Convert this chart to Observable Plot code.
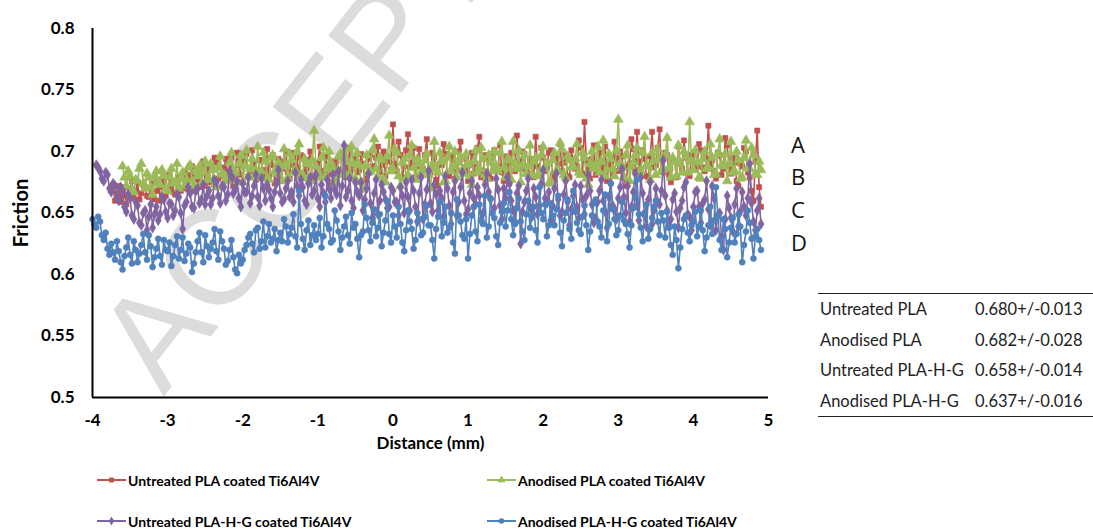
<!DOCTYPE html>
<html>
<head>
<meta charset="utf-8">
<script src="https://cdn.jsdelivr.net/npm/d3@7"></script>
<script src="https://cdn.jsdelivr.net/npm/@observablehq/plot@0.6"></script>
<style>
  html, body { margin: 0; padding: 0; background: #fff; }
  #page { position: relative; width: 1093px; height: 530px; overflow: hidden; font-family: Lato, "Open Sans", sans-serif; color: #000; }
  #chart { position: absolute; left: 0; top: 0; }
  .curve-label { position: absolute; left: 791px; font-size: 22px; line-height: 22px; font-family: "Open Sans", Lato, sans-serif; color: #111; }
  #stats { position: absolute; left: 818px; top: 293px; width: 275px; border-top: 1.5px solid #222; border-bottom: 1.5px solid #222; border-collapse: collapse; font-size: 16.5px; font-family: Lato, "Open Sans", sans-serif; color: #222; }
  #stats td { padding: 5px 0 0 0; height: 25.5px; line-height: 20px; vertical-align: top; white-space: nowrap; }
  #stats td.name { padding-left: 2px; width: 155px; }
  .legend-item { position: absolute; display: flex; align-items: center; font-weight: bold; font-size: 14px; white-space: nowrap; }
  .legend-item svg { margin-right: 2px; }
</style>
</head>
<body>
<div id="page">
  <div id="chart"></div>
</div>
<script>
// Series styling, in Excel's default palette
const seriesNames = [
  "Untreated PLA coated Ti6Al4V",
  "Anodised PLA coated Ti6Al4V",
  "Untreated PLA-H-G coated Ti6Al4V",
  "Anodised PLA-H-G coated Ti6Al4V"
];
const seriesColors = ["#C0504D", "#9BBB59", "#8064A2", "#4F81BD"];
const seriesSymbols = ["square", "triangle", "diamond", "circle"];
const symbolRadius = {square: 2.9, triangle: 3.6, diamond: 3.2, circle: 3.0};

// Friction readings sampled every 0.025 mm, starting at each series' first distance
const sampleStep = 0.025;
const seriesStarts = [-3.75, -3.60, -3.95, -4.00];

const untreatedPLA = [
  0.668, 0.673, 0.660, 0.666, 0.672, 0.659, 0.664, 0.671, 0.657, 0.665, 0.670, 0.676, 0.662, 0.668, 0.675, 0.661, 0.666, 0.673, 0.671, 0.664,
  0.663, 0.670, 0.674, 0.661, 0.668, 0.677, 0.660, 0.671, 0.676, 0.664, 0.669, 0.681, 0.672, 0.667, 0.665, 0.675, 0.679, 0.668, 0.670, 0.683,
  0.674, 0.669, 0.681, 0.688, 0.668, 0.679, 0.677, 0.671, 0.683, 0.692, 0.672, 0.680, 0.686, 0.675, 0.676, 0.695, 0.691, 0.678, 0.680, 0.687,
  0.686, 0.694, 0.678, 0.683, 0.695, 0.672, 0.682, 0.699, 0.689, 0.681, 0.675, 0.692, 0.698, 0.680, 0.684, 0.701, 0.690, 0.677, 0.679, 0.693,
  0.693, 0.679, 0.685, 0.702, 0.680, 0.689, 0.697, 0.674, 0.688, 0.694, 0.676, 0.686, 0.692, 0.700, 0.683, 0.678, 0.699, 0.689, 0.687, 0.695,
  0.681, 0.697, 0.694, 0.683, 0.686, 0.693, 0.700, 0.678, 0.679, 0.691, 0.690, 0.704, 0.684, 0.680, 0.696, 0.687, 0.675, 0.692, 0.688, 0.682,
  0.692, 0.685, 0.682, 0.696, 0.699, 0.679, 0.687, 0.703, 0.678, 0.689, 0.694, 0.683, 0.685, 0.698, 0.690, 0.676, 0.681, 0.694, 0.697, 0.688,
  0.686, 0.695, 0.704, 0.683, 0.689, 0.700, 0.680, 0.692, 0.693, 0.685, 0.722, 0.690, 0.684, 0.708, 0.697, 0.679, 0.688, 0.701, 0.714, 0.687,
  0.691, 0.703, 0.679, 0.688, 0.702, 0.682, 0.686, 0.697, 0.710, 0.684, 0.683, 0.699, 0.695, 0.677, 0.672, 0.690, 0.689, 0.706, 0.698, 0.681,
  0.680, 0.696, 0.693, 0.678, 0.685, 0.700, 0.708, 0.683, 0.687, 0.694, 0.676, 0.689, 0.699, 0.682, 0.690, 0.703, 0.712, 0.679, 0.684, 0.697,
  0.694, 0.681, 0.678, 0.698, 0.701, 0.685, 0.688, 0.705, 0.683, 0.676, 0.696, 0.690, 0.674, 0.699, 0.691, 0.684, 0.713, 0.692, 0.686, 0.700,
  0.698, 0.685, 0.682, 0.694, 0.693, 0.679, 0.712, 0.688, 0.680, 0.703, 0.695, 0.684, 0.687, 0.699, 0.701, 0.681, 0.677, 0.696, 0.690, 0.706,
  0.684, 0.691, 0.697, 0.680, 0.679, 0.701, 0.692, 0.686, 0.688, 0.709, 0.703, 0.682, 0.724, 0.693, 0.685, 0.678, 0.694, 0.705, 0.681, 0.690,
  0.699, 0.683, 0.687, 0.704, 0.676, 0.689, 0.693, 0.681, 0.708, 0.695, 0.684, 0.700, 0.696, 0.679, 0.672, 0.688, 0.690, 0.710, 0.702, 0.685,
  0.716, 0.692, 0.685, 0.701, 0.694, 0.680, 0.679, 0.696, 0.716, 0.687, 0.689, 0.703, 0.718, 0.684, 0.683, 0.699, 0.697, 0.681, 0.675, 0.693,
  0.692, 0.679, 0.704, 0.690, 0.686, 0.709, 0.695, 0.682, 0.680, 0.697, 0.699, 0.685, 0.688, 0.706, 0.701, 0.687, 0.684, 0.694, 0.721, 0.689,
  0.693, 0.684, 0.678, 0.699, 0.697, 0.681, 0.686, 0.711, 0.705, 0.688, 0.682, 0.695, 0.691, 0.676, 0.672, 0.690, 0.688, 0.703, 0.700, 0.683,
  0.679, 0.668, 0.660, 0.692, 0.717, 0.671, 0.655
];

const anodisedPLA = [
  0.688, 0.679, 0.672, 0.684, 0.680, 0.669, 0.667, 0.677, 0.676, 0.686, 0.690, 0.674, 0.670, 0.682, 0.679, 0.671, 0.665, 0.680, 0.684, 0.675,
  0.673, 0.685, 0.681, 0.670, 0.668, 0.679, 0.686, 0.674, 0.675, 0.690, 0.670, 0.678, 0.683, 0.672, 0.677, 0.687, 0.689, 0.676, 0.672, 0.684,
  0.680, 0.688, 0.674, 0.683, 0.692, 0.677, 0.678, 0.690, 0.685, 0.673, 0.671, 0.687, 0.696, 0.682, 0.681, 0.677, 0.676, 0.691, 0.699, 0.684,
  0.683, 0.676, 0.690, 0.697, 0.675, 0.688, 0.701, 0.680, 0.686, 0.694, 0.679, 0.685, 0.704, 0.681, 0.684, 0.699, 0.692, 0.678, 0.677, 0.695,
  0.697, 0.684, 0.682, 0.691, 0.688, 0.676, 0.702, 0.689, 0.679, 0.698, 0.693, 0.683, 0.685, 0.700, 0.706, 0.680, 0.681, 0.694, 0.690, 0.678,
  0.676, 0.693, 0.717, 0.688, 0.684, 0.679, 0.695, 0.703, 0.680, 0.686, 0.700, 0.691, 0.687, 0.677, 0.674, 0.696, 0.698, 0.681, 0.683, 0.702,
  0.692, 0.681, 0.704, 0.690, 0.678, 0.699, 0.689, 0.675, 0.669, 0.688, 0.697, 0.683, 0.684, 0.701, 0.710, 0.686, 0.680, 0.695, 0.693, 0.677,
  0.675, 0.696, 0.713, 0.684, 0.686, 0.702, 0.699, 0.680, 0.672, 0.691, 0.694, 0.678, 0.681, 0.697, 0.705, 0.687, 0.677, 0.694, 0.690, 0.683,
  0.685, 0.693, 0.698, 0.681, 0.670, 0.689, 0.708, 0.686, 0.683, 0.699, 0.692, 0.675, 0.676, 0.695, 0.704, 0.684, 0.688, 0.700, 0.679, 0.691,
  0.696, 0.685, 0.682, 0.698, 0.689, 0.680, 0.673, 0.692, 0.701, 0.683, 0.686, 0.703, 0.694, 0.681, 0.678, 0.697, 0.691, 0.684, 0.700, 0.688,
  0.684, 0.699, 0.708, 0.687, 0.679, 0.694, 0.693, 0.677, 0.708, 0.690, 0.686, 0.701, 0.675, 0.689, 0.697, 0.682, 0.688, 0.705, 0.681, 0.692,
  0.695, 0.680, 0.683, 0.697, 0.704, 0.686, 0.690, 0.674, 0.676, 0.693, 0.699, 0.684, 0.685, 0.707, 0.702, 0.681, 0.679, 0.696, 0.693, 0.687,
  0.688, 0.694, 0.706, 0.683, 0.681, 0.699, 0.695, 0.678, 0.673, 0.690, 0.700, 0.686, 0.689, 0.704, 0.683, 0.692, 0.709, 0.680, 0.685, 0.698,
  0.694, 0.686, 0.680, 0.701, 0.726, 0.690, 0.687, 0.679, 0.697, 0.705, 0.676, 0.688, 0.691, 0.697, 0.703, 0.682, 0.684, 0.699, 0.712, 0.689,
  0.688, 0.677, 0.699, 0.693, 0.681, 0.702, 0.694, 0.684, 0.686, 0.697, 0.711, 0.687, 0.679, 0.695, 0.692, 0.680, 0.705, 0.690, 0.683, 0.700,
  0.696, 0.683, 0.724, 0.692, 0.685, 0.701, 0.691, 0.679, 0.678, 0.694, 0.700, 0.686, 0.687, 0.706, 0.695, 0.681, 0.682, 0.698, 0.710, 0.689,
  0.688, 0.698, 0.676, 0.690, 0.708, 0.683, 0.684, 0.700, 0.693, 0.678, 0.679, 0.695, 0.709, 0.687, 0.686, 0.703, 0.697, 0.682, 0.681, 0.692,
  0.685
];

const untreatedPLAHG = [
  0.689, 0.687, 0.684, 0.678, 0.676, 0.683, 0.681, 0.670, 0.667, 0.674, 0.672, 0.663, 0.660, 0.671, 0.668, 0.655, 0.651, 0.665, 0.662, 0.648,
  0.645, 0.659, 0.656, 0.642, 0.640, 0.650, 0.652, 0.636, 0.647, 0.657, 0.638, 0.649, 0.655, 0.644, 0.649, 0.663, 0.661, 0.651, 0.646, 0.658,
  0.657, 0.648, 0.652, 0.665, 0.663, 0.650, 0.637, 0.656, 0.659, 0.671, 0.666, 0.655, 0.654, 0.668, 0.670, 0.658, 0.661, 0.673, 0.657, 0.664,
  0.668, 0.657, 0.662, 0.677, 0.675, 0.664, 0.658, 0.672, 0.671, 0.660, 0.665, 0.684, 0.680, 0.666, 0.669, 0.676, 0.662, 0.655, 0.674, 0.667,
  0.667, 0.679, 0.658, 0.664, 0.672, 0.681, 0.663, 0.656, 0.678, 0.670, 0.660, 0.673, 0.669, 0.662, 0.655, 0.667, 0.674, 0.685, 0.666, 0.659,
  0.661, 0.670, 0.676, 0.663, 0.667, 0.659, 0.683, 0.672, 0.664, 0.677, 0.671, 0.660, 0.657, 0.674, 0.679, 0.665, 0.668, 0.681, 0.662, 0.655,
  0.673, 0.666, 0.659, 0.677, 0.670, 0.662, 0.681, 0.669, 0.665, 0.684, 0.656, 0.672, 0.705, 0.663, 0.668, 0.678, 0.660, 0.654, 0.675, 0.667,
  0.664, 0.675, 0.652, 0.661, 0.670, 0.682, 0.658, 0.646, 0.666, 0.677, 0.649, 0.660, 0.673, 0.667, 0.661, 0.654, 0.655, 0.671, 0.668, 0.659,
  0.659, 0.648, 0.671, 0.664, 0.650, 0.675, 0.663, 0.652, 0.677, 0.668, 0.655, 0.643, 0.666, 0.679, 0.645, 0.657, 0.669, 0.684, 0.658, 0.651,
  0.673, 0.665, 0.652, 0.668, 0.662, 0.647, 0.680, 0.670, 0.656, 0.641, 0.667, 0.676, 0.648, 0.659, 0.671, 0.683, 0.660, 0.649, 0.653, 0.666,
  0.676, 0.662, 0.657, 0.671, 0.664, 0.644, 0.650, 0.673, 0.682, 0.667, 0.661, 0.650, 0.654, 0.678, 0.669, 0.656, 0.645, 0.670, 0.662, 0.679,
  0.674, 0.660, 0.652, 0.643, 0.666, 0.672, 0.625, 0.651, 0.659, 0.668, 0.678, 0.655, 0.647, 0.670, 0.663, 0.649, 0.656, 0.674, 0.685, 0.662,
  0.658, 0.667, 0.644, 0.656, 0.670, 0.682, 0.661, 0.648, 0.651, 0.665, 0.676, 0.659, 0.640, 0.653, 0.664, 0.673, 0.655, 0.646, 0.672, 0.661,
  0.649, 0.664, 0.681, 0.668, 0.657, 0.642, 0.645, 0.659, 0.668, 0.677, 0.660, 0.651, 0.638, 0.663, 0.674, 0.656, 0.653, 0.645, 0.662, 0.671,
  0.686, 0.663, 0.650, 0.672, 0.643, 0.655, 0.667, 0.682, 0.656, 0.644, 0.679, 0.666, 0.648, 0.639, 0.661, 0.675, 0.641, 0.652, 0.670, 0.659,
  0.657, 0.668, 0.693, 0.664, 0.652, 0.640, 0.645, 0.661, 0.666, 0.651, 0.638, 0.654, 0.660, 0.671, 0.675, 0.649, 0.647, 0.636, 0.655, 0.667,
  0.668, 0.655, 0.642, 0.658, 0.661, 0.676, 0.653, 0.640, 0.672, 0.662, 0.636, 0.648, 0.650, 0.631, 0.620, 0.645, 0.664, 0.654, 0.646, 0.635,
  0.657, 0.670, 0.639, 0.651, 0.667, 0.655, 0.648, 0.662, 0.690, 0.658, 0.643, 0.636, 0.652, 0.662, 0.641
];

const anodisedPLAHG = [
  0.645, 0.641, 0.638, 0.647, 0.643, 0.632, 0.628, 0.634, 0.621, 0.616, 0.625, 0.618, 0.612, 0.627, 0.619, 0.610, 0.604, 0.615, 0.622, 0.630,
  0.616, 0.609, 0.627, 0.620, 0.610, 0.617, 0.624, 0.633, 0.618, 0.612, 0.632, 0.623, 0.606, 0.614, 0.621, 0.629, 0.615, 0.608, 0.628, 0.620,
  0.619, 0.626, 0.607, 0.615, 0.624, 0.631, 0.613, 0.620, 0.630, 0.611, 0.617, 0.625, 0.622, 0.602, 0.609, 0.618, 0.627, 0.634, 0.618, 0.610,
  0.632, 0.623, 0.614, 0.621, 0.626, 0.637, 0.619, 0.612, 0.635, 0.627, 0.621, 0.608, 0.611, 0.620, 0.628, 0.614, 0.604, 0.601, 0.616, 0.609,
  0.612, 0.620, 0.624, 0.630, 0.633, 0.625, 0.618, 0.636, 0.638, 0.621, 0.627, 0.643, 0.622, 0.631, 0.641, 0.626, 0.629, 0.637, 0.619, 0.628,
  0.634, 0.627, 0.645, 0.639, 0.626, 0.633, 0.638, 0.649, 0.631, 0.622, 0.668, 0.641, 0.629, 0.620, 0.636, 0.644, 0.624, 0.632, 0.640, 0.628,
  0.633, 0.646, 0.622, 0.631, 0.664, 0.641, 0.637, 0.626, 0.628, 0.652, 0.644, 0.635, 0.620, 0.630, 0.639, 0.647, 0.632, 0.625, 0.650, 0.638,
  0.641, 0.629, 0.614, 0.632, 0.635, 0.657, 0.646, 0.636, 0.627, 0.642, 0.653, 0.631, 0.638, 0.649, 0.623, 0.634, 0.644, 0.660, 0.633, 0.626,
  0.648, 0.639, 0.630, 0.655, 0.641, 0.626, 0.619, 0.636, 0.652, 0.643, 0.637, 0.621, 0.628, 0.650, 0.645, 0.632, 0.634, 0.647, 0.656, 0.640,
  0.640, 0.628, 0.613, 0.637, 0.647, 0.659, 0.631, 0.642, 0.655, 0.634, 0.638, 0.650, 0.626, 0.617, 0.661, 0.648, 0.643, 0.632, 0.629, 0.645,
  0.613, 0.633, 0.648, 0.655, 0.635, 0.627, 0.657, 0.644, 0.641, 0.664, 0.630, 0.639, 0.662, 0.650, 0.646, 0.631, 0.624, 0.642, 0.651, 0.658,
  0.639, 0.652, 0.667, 0.645, 0.632, 0.641, 0.654, 0.662, 0.643, 0.635, 0.628, 0.649, 0.660, 0.638, 0.647, 0.655, 0.636, 0.626, 0.671, 0.650,
  0.645, 0.657, 0.631, 0.640, 0.658, 0.648, 0.640, 0.653, 0.664, 0.634, 0.623, 0.644, 0.650, 0.661, 0.637, 0.629, 0.668, 0.651, 0.642, 0.636,
  0.633, 0.647, 0.656, 0.640, 0.620, 0.635, 0.648, 0.658, 0.661, 0.643, 0.639, 0.630, 0.652, 0.665, 0.627, 0.641, 0.674, 0.653, 0.645, 0.632,
  0.636, 0.648, 0.659, 0.644, 0.641, 0.633, 0.622, 0.640, 0.654, 0.662, 0.677, 0.649, 0.638, 0.627, 0.650, 0.657, 0.629, 0.637, 0.646, 0.655,
  0.660, 0.643, 0.632, 0.650, 0.644, 0.630, 0.651, 0.638, 0.624, 0.616, 0.639, 0.628, 0.605, 0.622, 0.637, 0.645, 0.648, 0.634, 0.627, 0.640,
  0.643, 0.651, 0.631, 0.639, 0.652, 0.636, 0.619, 0.630, 0.640, 0.655, 0.633, 0.644, 0.671, 0.648, 0.628, 0.620, 0.645, 0.637, 0.614, 0.626,
  0.638, 0.646, 0.626, 0.633, 0.649, 0.639, 0.610, 0.624, 0.635, 0.652, 0.642, 0.629, 0.613, 0.631, 0.637, 0.628, 0.620
];

// Axis ticks
const xTicks = [-4, -3, -2, -1, 0, 1, 2, 3, 4, 5];
const yTicks = [0.5, 0.55, 0.6, 0.65, 0.7, 0.75, 0.8];

// Curve letters at the right end of the traces, and the summary table
const curveLabels = ["A", "B", "C", "D"];
const curveLabelTops = [133, 165, 198, 231];
const tableNames = ["Untreated PLA", "Anodised PLA", "Untreated PLA-H-G", "Anodised PLA-H-G"];
const tableValues = ["0.680+/-0.013", "0.682+/-0.028", "0.658+/-0.014", "0.637+/-0.016"];

const seriesValues = [untreatedPLA, anodisedPLA, untreatedPLAHG, anodisedPLAHG];
const series = seriesValues.map((values, k) => ({
  name: seriesNames[k],
  color: seriesColors[k],
  symbol: seriesSymbols[k],
  rows: values.map((v, i) => ({x: +(seriesStarts[k] + i * sampleStep).toFixed(3), y: v}))
}));

const fmt = d => String(+d.toFixed(2));

const chart = Plot.plot({
  width: 800,
  height: 457,
  marginLeft: 92,
  marginRight: 32,
  marginTop: 28,
  marginBottom: 60,
  style: {background: "transparent", fontFamily: "Lato, 'Open Sans', sans-serif", color: "#000", overflow: "hidden"},
  x: {domain: [-4, 5]},
  y: {domain: [0.5, 0.8]},
  marks: [
    // faint rotated stamp lying behind the data
    Plot.text(["ACCEPTED"], {
      frameAnchor: "top-left", dx: 37, dy: 342, rotate: -52,
      textAnchor: "start", lineAnchor: "middle",
      fontSize: 135, fontFamily: "Liberation Sans, Arial, sans-serif",
      fill: "#dcdcdc"
    }),
    ...series.flatMap(s => [
      Plot.line(s.rows, {x: "x", y: "y", stroke: s.color, strokeWidth: 1.6}),
      Plot.dot(s.rows, {x: "x", y: "y", symbol: s.symbol, r: symbolRadius[s.symbol], fill: s.color, stroke: s.color, strokeWidth: 0.6})
    ]),
    Plot.ruleX([-4], {stroke: "#000", strokeWidth: 2}),
    Plot.ruleY([0.5], {stroke: "#000", strokeWidth: 2}),
    Plot.axisX({ticks: xTicks, tickFormat: fmt, tickSize: 0, tickPadding: 16, fontSize: 17, fontWeight: "bold", label: null}),
    Plot.axisY({ticks: yTicks, tickFormat: fmt, tickSize: 0, tickPadding: 18, fontSize: 17, fontWeight: "bold", label: null}),
    Plot.text(["Friction"], {frameAnchor: "left", dx: -71, rotate: -90, textAnchor: "middle", fontSize: 20, fontWeight: "bold"}),
    Plot.text(["Distance (mm)"], {frameAnchor: "bottom", dy: 51, textAnchor: "middle", fontSize: 17, fontWeight: "bold"})
  ]
});
document.getElementById("chart").appendChild(chart);

const page = document.getElementById("page");

// Curve letters
curveLabels.forEach((t, i) => {
  const el = document.createElement("div");
  el.className = "curve-label";
  el.style.top = curveLabelTops[i] + "px";
  el.textContent = t;
  page.appendChild(el);
});

// Summary table
const table = document.createElement("table");
table.id = "stats";
tableNames.forEach((n, i) => {
  const tr = document.createElement("tr");
  const a = document.createElement("td"); a.className = "name"; a.textContent = n;
  const b = document.createElement("td"); b.textContent = tableValues[i];
  tr.append(a, b);
  table.appendChild(tr);
});
page.appendChild(table);

// Legend: two columns, two rows
const legendLefts = [97, 487];
const legendTops = [471, 512];
const symbolPaths = {
  square: d3.symbol(d3.symbolSquare, 24)(),
  triangle: d3.symbol(d3.symbolTriangle, 26)(),
  diamond: d3.symbol(d3.symbolDiamond, 24)(),
  circle: d3.symbol(d3.symbolCircle, 24)()
};
series.forEach((s, k) => {
  const item = document.createElement("div");
  item.className = "legend-item";
  item.style.left = legendLefts[k % 2] + "px";
  item.style.top = legendTops[Math.floor(k / 2)] + "px";
  item.style.height = "18px";
  item.innerHTML =
    `<svg width="29" height="12" viewBox="0 0 29 12">` +
    `<line x1="0" y1="6" x2="29" y2="6" stroke="${s.color}" stroke-width="2"/>` +
    `<path transform="translate(14.5,6)" d="${symbolPaths[s.symbol]}" fill="${s.color}"/></svg>` +
    `<span>${s.name}</span>`;
  page.appendChild(item);
});
</script>
</body>
</html>
